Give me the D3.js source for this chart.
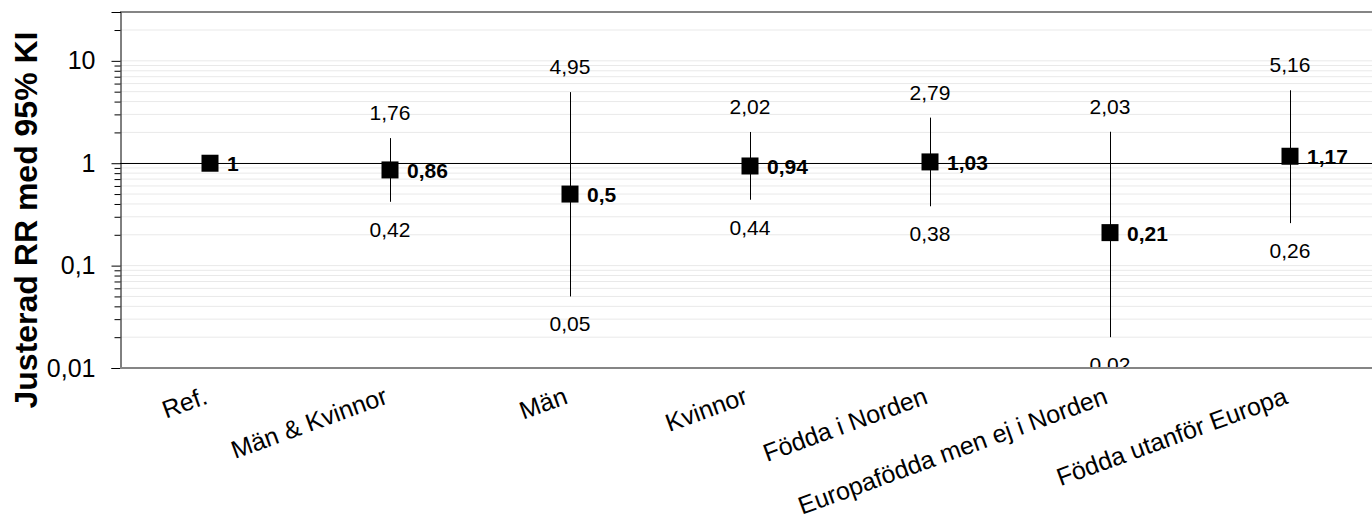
<!DOCTYPE html>
<html>
<head>
<meta charset="utf-8">
<script src="https://cdn.jsdelivr.net/npm/d3@7"></script>
<style>
  body { margin: 0; background: #fff; }
  svg { display: block; font-family: "Liberation Sans", Arial, sans-serif; }
</style>
</head>
<body>
<svg id="chart"></svg>
<script>
// data
const categories = ["Ref.", "Män & Kvinnor", "Män", "Kvinnor", "Födda i Norden", "Europafödda men ej i Norden", "Födda utanför Europa"];
const rr = [1, 0.86, 0.5, 0.94, 1.03, 0.21, 1.17];
const lower = [null, 0.42, 0.05, 0.44, 0.38, 0.02, 0.26];
const upper = [null, 1.76, 4.95, 2.02, 2.79, 2.03, 5.16];
const yTicks = [0.01, 0.1, 1, 10];
const yTitle = "Justerad RR med 95% KI";

const width = 1372;
const height = 523;
const plot = { left: 120, right: 1380, top: 12, bottom: 368 };

const fmt = d => String(d).replace(".", ",");

const data = categories.map((c, i) => ({ cat: c, rr: rr[i], lo: lower[i], hi: upper[i] }));

const svg = d3.select("#chart")
    .attr("width", width)
    .attr("height", height);

const x = d3.scaleBand()
    .domain(categories)
    .range([plot.left, plot.right]);

const y = d3.scaleLog()
    .domain([0.01, 30])
    .range([plot.bottom, plot.top]);

const cx = d => x(d.cat) + x.bandwidth() / 2;

// minor values 2..9 in every decade, plus 20 and 30 at the top
const minor = [];
[0.01, 0.1, 1, 10].forEach(p => {
    for (let k = 2; k <= 9; k++) {
        const v = +(p * k).toPrecision(2);
        if (v <= 30) minor.push(v);
    }
});

svg.append("defs").append("clipPath")
    .attr("id", "plotclip")
    .append("rect")
    .attr("x", plot.left)
    .attr("y", plot.top)
    .attr("width", plot.right - plot.left)
    .attr("height", plot.bottom - plot.top);

// gridlines
svg.append("g")
    .selectAll("line")
    .data(minor.concat(yTicks))
    .enter()
    .append("line")
    .attr("x1", plot.left)
    .attr("x2", plot.right)
    .attr("y1", d => y(d))
    .attr("y2", d => y(d))
    .attr("stroke", "#e9e9e9")
    .attr("stroke-width", 1);

// reference line at 1
svg.append("line")
    .attr("x1", plot.left)
    .attr("x2", plot.right)
    .attr("y1", Math.round(y(1)) + 0.5)
    .attr("y2", Math.round(y(1)) + 0.5)
    .attr("stroke", "#000")
    .attr("stroke-width", 1);

// top border (grey)
svg.append("line")
    .attr("x1", plot.left)
    .attr("x2", plot.right)
    .attr("y1", plot.top)
    .attr("y2", plot.top)
    .attr("stroke", "#858585")
    .attr("stroke-width", 2);

// y axis: major ticks with labels, minor ticks shorter
const yAxis = d3.axisLeft(y)
    .tickValues(yTicks)
    .tickFormat(fmt)
    .tickSize(9)
    .tickPadding(16);

const gy = svg.append("g")
    .attr("transform", "translate(" + (plot.left + 0.5) + ",0)")
    .call(yAxis);

gy.select(".domain").attr("stroke", "#000");
gy.selectAll(".tick line").attr("stroke", "#000");
gy.selectAll(".tick text")
    .attr("font-size", "25px")
    .attr("font-family", "Liberation Sans, Arial, sans-serif")
    .attr("fill", "#000");

const gyMinor = svg.append("g")
    .attr("transform", "translate(" + (plot.left + 0.5) + ",0)")
    .call(d3.axisLeft(y).tickValues(minor).tickFormat("").tickSize(6));
gyMinor.select(".domain").remove();
gyMinor.selectAll(".tick line").attr("stroke", "#000");

// y axis title
svg.append("text")
    .attr("transform", "translate(37,220) rotate(-90)")
    .attr("text-anchor", "middle")
    .attr("font-size", "32px")
    .attr("font-weight", "bold")
    .text(yTitle);

// x category labels, rotated
svg.append("g")
    .selectAll("text")
    .data(data)
    .enter()
    .append("text")
    .attr("transform", d => "translate(" + (cx(d) - 1) + ",403) rotate(-20)")
    .attr("text-anchor", "end")
    .attr("font-size", "25px")
    .text(d => d.cat);

const marks = svg.append("g").attr("clip-path", "url(#plotclip)");
const withCI = data.filter(d => d.lo !== null);

// error bars
marks.selectAll("line.ci")
    .data(withCI)
    .enter()
    .append("line")
    .attr("class", "ci")
    .attr("x1", d => Math.round(cx(d)) + 0.5)
    .attr("x2", d => Math.round(cx(d)) + 0.5)
    .attr("y1", d => y(d.hi))
    .attr("y2", d => y(d.lo))
    .attr("stroke", "#000")
    .attr("stroke-width", 1);

// square markers
const sz = 17;
marks.selectAll("rect")
    .data(data)
    .enter()
    .append("rect")
    .attr("x", d => cx(d) - sz / 2)
    .attr("y", d => y(d.rr) - sz / 2)
    .attr("width", sz)
    .attr("height", sz)
    .attr("fill", "#000");

// labels
marks.selectAll("text.mean")
    .data(data)
    .enter()
    .append("text")
    .attr("class", "mean")
    .attr("x", d => cx(d) + 17)
    .attr("y", d => y(d.rr) + 8)
    .attr("font-size", "21px")
    .attr("font-weight", "bold")
    .text(d => fmt(d.rr));

marks.selectAll("text.hi")
    .data(withCI)
    .enter()
    .append("text")
    .attr("class", "hi")
    .attr("x", d => cx(d))
    .attr("y", d => y(d.hi) - 18)
    .attr("text-anchor", "middle")
    .attr("font-size", "21px")
    .text(d => fmt(d.hi));

marks.selectAll("text.lo")
    .data(withCI)
    .enter()
    .append("text")
    .attr("class", "lo")
    .attr("x", d => cx(d))
    .attr("y", d => y(d.lo) + 35)
    .attr("text-anchor", "middle")
    .attr("font-size", "21px")
    .text(d => fmt(d.lo));

// bottom axis line (grey), drawn over the clipped labels
svg.append("line")
    .attr("x1", plot.left)
    .attr("x2", plot.right)
    .attr("y1", plot.bottom)
    .attr("y2", plot.bottom)
    .attr("stroke", "#858585")
    .attr("stroke-width", 2);
</script>
</body>
</html>
